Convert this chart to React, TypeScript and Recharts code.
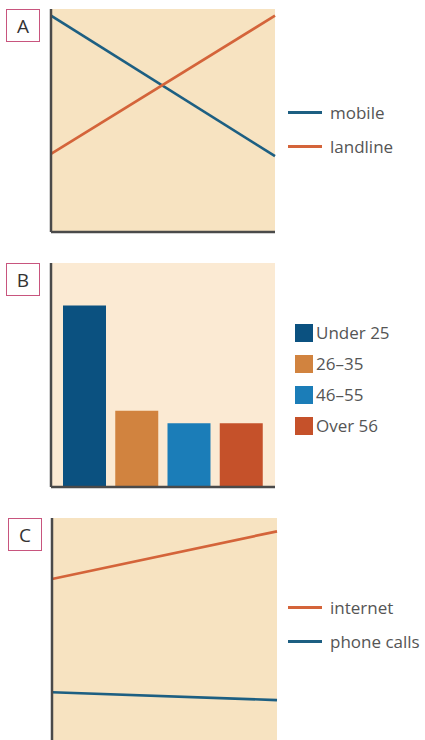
import { Bar, BarChart, CartesianGrid, Cell, Legend, Line, LineChart, XAxis, YAxis } from "recharts";

// panel A: mobile vs landline (two end points, straight lines)
const periodsA = ["then", "now"];
const mobileA = [97, 34];
const landlineA = [35, 97];

// panel B: age groups
const ageGroups = ["Under 25", "26–35", "46–55", "Over 56"];
const ageValues = [81, 34, 28.5, 28.5];
const ageColors = ["#0b5180", "#d1833f", "#1b7db8", "#c5512a"];

// panel C: internet vs phone calls
const periodsC = ["then", "now"];
const internetC = [72.5, 94];
const phoneC = [21.5, 18];

const BLUE = "#1d5f82";
const ORANGE = "#d4643a";
const AXIS = "#4a4a4a";
const FONT = "'Open Sans', sans-serif";

const dataA = periodsA.map((p, i) => ({ period: p, mobile: mobileA[i], landline: landlineA[i] }));
const dataB = ageGroups.map((g, i) => ({ group: g, value: ageValues[i] }));
const dataC = periodsC.map((p, i) => ({ period: p, internet: internetC[i], "phone calls": phoneC[i] }));

function PanelTag({ text, left, top }: { text: string; left: number; top: number }) {
  return (
    <div
      style={{
        position: "absolute",
        left,
        top,
        width: 32,
        height: 31,
        border: "1.5px solid #c8557e",
        background: "#fff",
        fontFamily: FONT,
        fontSize: 19,
        color: "#333",
        display: "flex",
        alignItems: "center",
        justifyContent: "center",
      }}
    >
      {text}
    </div>
  );
}

function LineLegend({ payload, order }: any) {
  const items = [...(payload || [])].sort((a: any, b: any) => order.indexOf(a.value) - order.indexOf(b.value));
  return (
    <div style={{ fontFamily: FONT }}>
      {items.map((entry: any) => (
        <div key={entry.value} style={{ display: "flex", alignItems: "center", height: 34 }}>
          <div style={{ width: 34, height: 3, background: entry.color, marginRight: 8 }} />
          <span style={{ fontSize: 17, color: "#555" }}>{entry.value}</span>
        </div>
      ))}
    </div>
  );
}

function BarLegend() {
  return (
    <div style={{ fontFamily: FONT }}>
      {ageGroups.map((g, i) => (
        <div key={g} style={{ display: "flex", alignItems: "center", height: 31 }}>
          <div style={{ width: 18, height: 18, background: ageColors[i], marginRight: 3 }} />
          <span style={{ fontSize: 17, color: "#555" }}>{g}</span>
        </div>
      ))}
    </div>
  );
}

export default function App() {
  return (
    <div style={{ position: "absolute", left: 0, top: 0, width: 425, height: 740, overflow: "hidden", background: "#fff" }}>
      {/* A */}
      <div style={{ position: "absolute", left: 0, top: 0 }}>
        <LineChart width={425} height={240} data={dataA} margin={{ top: 9, right: 150, bottom: 7, left: 50 }}>
          <CartesianGrid horizontal={false} vertical={false} fill="#f7e3c1" />
          <XAxis dataKey="period" height={1} tick={false} tickLine={false} axisLine={{ stroke: AXIS, strokeWidth: 2.5 }} />
          <YAxis width={1} domain={[0, 100]} tick={false} tickLine={false} axisLine={{ stroke: AXIS, strokeWidth: 2.5 }} />
          <Line dataKey="mobile" stroke={BLUE} strokeWidth={2.7} dot={false} isAnimationActive={false} />
          <Line dataKey="landline" stroke={ORANGE} strokeWidth={2.7} dot={false} isAnimationActive={false} />
          <Legend layout="vertical" align="center" verticalAlign="middle" content={<LineLegend order={["mobile", "landline"]} />} wrapperStyle={{ left: 288, top: 95, width: 140 }} />
        </LineChart>
      </div>
      <PanelTag text="A" left={6} top={9} />

      {/* B */}
      <div style={{ position: "absolute", left: 0, top: 250 }}>
        <BarChart width={425} height={245} data={dataB} margin={{ top: 13, right: 150, bottom: 7, left: 50 }}>
          <CartesianGrid horizontal={false} vertical={false} fill="#fbead3" />
          <XAxis dataKey="group" height={1} tick={false} tickLine={false} padding={{ left: 7, right: 8 }} axisLine={{ stroke: AXIS, strokeWidth: 2.5 }} />
          <YAxis width={1} domain={[0, 100]} tick={false} tickLine={false} axisLine={{ stroke: AXIS, strokeWidth: 2.5 }} />
          <Bar dataKey="value" barSize={43} isAnimationActive={false}>
            {dataB.map((d, i) => (
              <Cell key={d.group} fill={ageColors[i]} />
            ))}
          </Bar>
          <Legend layout="vertical" align="center" verticalAlign="middle" content={<BarLegend />} wrapperStyle={{ left: 295, top: 67, width: 140 }} />
        </BarChart>
      </div>
      <PanelTag text="B" left={6} top={263} />

      {/* C */}
      <div style={{ position: "absolute", left: 0, top: 500 }}>
        <LineChart width={425} height={240} data={dataC} margin={{ top: 18, right: 148, bottom: 0, left: 51 }}>
          <CartesianGrid horizontal={false} vertical={false} fill="#f7e3c1" />
          <XAxis dataKey="period" height={0} tick={false} tickLine={false} axisLine={false} />
          <YAxis width={1} domain={[0, 100]} tick={false} tickLine={false} axisLine={{ stroke: AXIS, strokeWidth: 2.5 }} />
          <Line dataKey="internet" stroke={ORANGE} strokeWidth={2.7} dot={false} isAnimationActive={false} />
          <Line dataKey="phone calls" stroke={BLUE} strokeWidth={2.7} dot={false} isAnimationActive={false} />
          <Legend layout="vertical" align="center" verticalAlign="middle" content={<LineLegend order={["internet", "phone calls"]} />} wrapperStyle={{ left: 288, top: 90, width: 140 }} />
        </LineChart>
      </div>
      <PanelTag text="C" left={8} top={518} />
    </div>
  );
}
